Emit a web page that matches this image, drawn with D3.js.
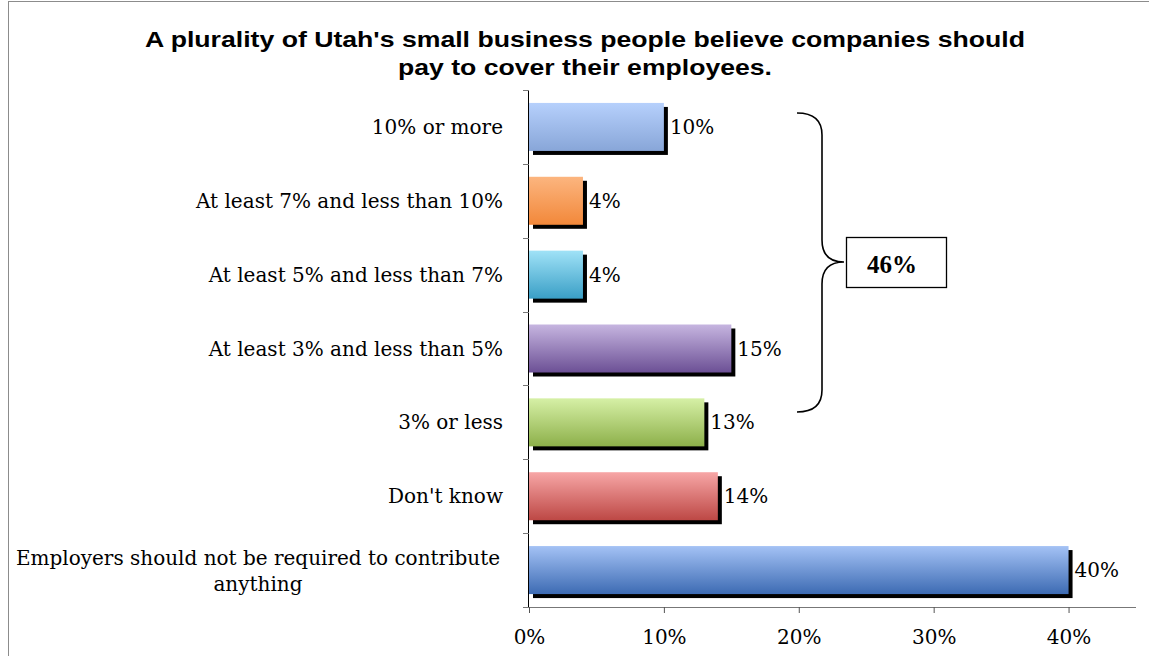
<!DOCTYPE html>
<html>
<head>
<meta charset="utf-8">
<script src="https://cdn.jsdelivr.net/npm/d3@7"></script>
<style>
  html, body { margin: 0; padding: 0; background: #fff; }
  svg { display: block; }
</style>
</head>
<body>
<svg id="chart" width="1149" height="656"></svg>
<script>
// Survey answers, top to bottom
const categories = [
  "10% or more",
  "At least 7% and less than 10%",
  "At least 5% and less than 7%",
  "At least 3% and less than 5%",
  "3% or less",
  "Don't know",
  "Employers should not be required to contribute anything"
];
const values = [10, 4, 4, 15, 13, 14, 40];
const xTicks = [0, 10, 20, 30, 40];
// gradient stops (top, bottom) per bar
const topColors = ["#b6d0fc", "#fcb57f", "#a0e2f7", "#c6b5e0", "#d6f0a6", "#f7a6a6", "#a4c2f5"];
const bottomColors = ["#88a6d8", "#f2883a", "#3a9fc6", "#6c5095", "#8db04a", "#bd4845", "#3d6bb3"];
const bracketTotal = "46%";
const titleLines = [
  "A plurality of Utah's small business people believe companies should",
  "pay to cover their employees."
];
const titleWidths = [880, 374];

const svg = d3.select("#chart");
const W = 1149, H = 656;
const serif = "'DejaVu Serif', 'Liberation Serif', serif";
const fs = 20;

// chart frame
svg.append("rect")
  .attr("x", 8.5).attr("y", 1.5)
  .attr("width", W + 10).attr("height", H + 10)
  .attr("fill", "#fff").attr("stroke", "#8c8c8c").attr("stroke-width", 1);

// title
svg.append("g").selectAll("text").data(titleLines).join("text")
  .attr("x", 585).attr("y", (d, i) => 47 + i * 28)
  .attr("text-anchor", "middle")
  .attr("font-family", "'Liberation Sans', Arial, sans-serif")
  .attr("font-weight", "bold")
  .attr("font-size", 22)
  .attr("textLength", (d, i) => titleWidths[i])
  .attr("lengthAdjust", "spacingAndGlyphs")
  .attr("fill", "#000")
  .text(d => d);

const margin = { left: 529, top: 90, right: 1136, bottom: 607 };
const x = d3.scaleLinear().domain([0, 45]).range([margin.left, margin.right]);
const y = d3.scaleBand().domain(categories).range([margin.top, margin.bottom]).paddingInner(0.35).paddingOuter(0.175);

// gradients
const defs = svg.append("defs");
categories.forEach((c, i) => {
  const g = defs.append("linearGradient").attr("id", "grad" + i)
    .attr("x1", 0).attr("y1", 0).attr("x2", 0).attr("y2", 1);
  g.append("stop").attr("offset", "0%").attr("stop-color", topColors[i]);
  g.append("stop").attr("offset", "100%").attr("stop-color", bottomColors[i]);
});

const rows = categories.map((c, i) => ({ c, v: values[i], i }));

// bar shadows
svg.append("g").selectAll("rect").data(rows).join("rect")
  .attr("x", d => x(0) + 4)
  .attr("y", d => y(d.c) + 4)
  .attr("width", d => x(d.v) - x(0))
  .attr("height", y.bandwidth())
  .attr("fill", "#000");

// bars
svg.append("g").selectAll("rect").data(rows).join("rect")
  .attr("x", x(0))
  .attr("y", d => y(d.c))
  .attr("width", d => x(d.v) - x(0))
  .attr("height", y.bandwidth())
  .attr("fill", d => `url(#grad${d.i})`);

// value labels
svg.append("g").selectAll("text").data(rows).join("text")
  .attr("x", d => x(d.v) + 6)
  .attr("y", d => y(d.c) + y.bandwidth() / 2 + 7)
  .attr("font-family", serif)
  .attr("font-size", fs)
  .attr("fill", "#000")
  .text(d => d.v + "%");

// x axis
const xAxis = svg.append("g")
  .attr("transform", `translate(0,${margin.bottom})`)
  .call(d3.axisBottom(x).tickValues(xTicks).tickFormat(d => d + "%").tickSize(6).tickPadding(17));
xAxis.select(".domain").attr("d", `M${margin.left - 6},0.5H${margin.right}`);

// y axis
const yTickPos = d3.range(categories.length + 1).map(k => margin.top + k * y.step());
const yAxis = svg.append("g");
yAxis.append("line")
  .attr("x1", margin.left - 0.5).attr("x2", margin.left - 0.5)
  .attr("y1", margin.top).attr("y2", margin.bottom)
  .attr("stroke", "#000");
yAxis.selectAll("line.tk").data(yTickPos).join("line").attr("class", "tk")
  .attr("x1", margin.left - 6).attr("x2", margin.left)
  .attr("y1", d => Math.round(d) + 0.5).attr("y2", d => Math.round(d) + 0.5)
  .attr("stroke", "#777");

xAxis.selectAll(".domain").attr("stroke", "#777");
xAxis.selectAll(".tick line").attr("stroke", "#555");
xAxis.selectAll("text").attr("font-family", serif).attr("font-size", fs).attr("fill", "#000");

// category labels, wrapped where long
const catLabels = svg.append("g").selectAll("text").data(rows).join("text")
  .attr("font-family", serif)
  .attr("font-size", fs)
  .attr("fill", "#000");
catLabels.each(function (d) {
  const t = d3.select(this);
  const cy = y(d.c) + y.bandwidth() / 2;
  if (d.c.length > 40) {
    const words = d.c.split(" ");
    const l1 = words.slice(0, -1).join(" "), l2 = words[words.length - 1];
    t.attr("text-anchor", "middle");
    t.append("tspan").attr("x", 258).attr("y", cy - 5).text(l1);
    t.append("tspan").attr("x", 258).attr("y", cy + 21).text(l2);
  } else {
    t.attr("text-anchor", "end").attr("x", 503).attr("y", cy + 7).text(d.c);
  }
});

// bracket grouping the first five answers
const bTop = 113, bBot = 412, bMid = 262;
const bx0 = 797, bx1 = 822, bx2 = 844, r = 22;
const bracket = d3.path();
bracket.moveTo(bx0, bTop);
bracket.quadraticCurveTo(bx1, bTop, bx1, bTop + r);
bracket.lineTo(bx1, bMid - r);
bracket.quadraticCurveTo(bx1, bMid, bx2, bMid);
bracket.quadraticCurveTo(bx1, bMid, bx1, bMid + r);
bracket.lineTo(bx1, bBot - r);
bracket.quadraticCurveTo(bx1, bBot, bx0, bBot);
svg.append("path").attr("d", bracket.toString())
  .attr("fill", "none").attr("stroke", "#000").attr("stroke-width", 1.6);

svg.append("rect")
  .attr("x", 846.5).attr("y", 237.5).attr("width", 100).attr("height", 50)
  .attr("fill", "#fff").attr("stroke", "#000").attr("stroke-width", 1.3);
svg.append("text")
  .attr("x", 892).attr("y", 273)
  .attr("text-anchor", "middle")
  .attr("font-family", "'Liberation Serif', serif")
  .attr("font-weight", "bold")
  .attr("font-size", 25)
  .text(bracketTotal);
</script>
</body>
</html>
